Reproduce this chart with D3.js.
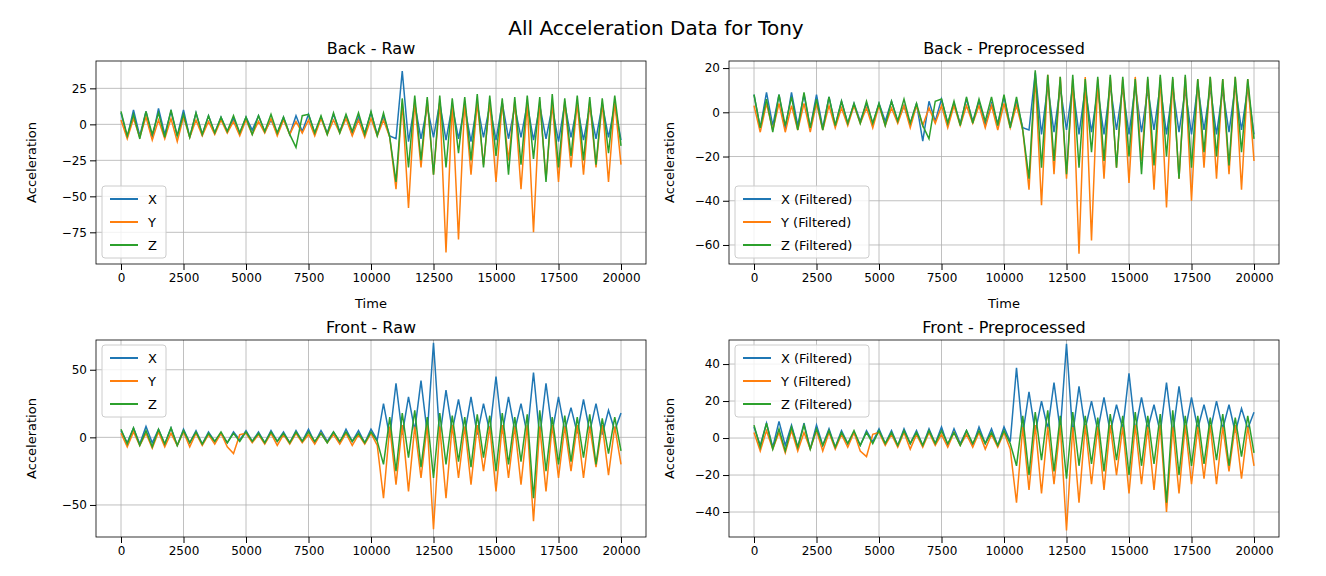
<!DOCTYPE html>
<html>
<head>
<meta charset="utf-8">
<script src="https://cdn.jsdelivr.net/npm/d3@7"></script>
<style>
  body { margin: 0; background: #fff; }
  text { font-family: "DejaVu Sans", sans-serif; }
</style>
</head>
<body>
<div class="canvas"></div>
<script>
// samples are evenly spaced over 0..20000 (time step from array length)
const backRawX = [8,-9,10,-8,9,-10,11,-7,9,-8, 10,-9,8,-7,6,-6,5,-5,4,-6, 5,-4,6,-5,3,-6,5,-7,6,-5, 7,-6,5,-6,7,-5,6,-7,5,-6, 8,-7,6,-8,
  -10,37,-12,14,-10,12,-9,15,-11,13, -10,12,-12,14,-9,13,-11,15,-10,12, -9,14,-11,13,-10,12,-12,14,-9,13, -11,12,-10,14,-9,13,-11];
const backRawY = [3,-10,4,-9,5,-11,3,-10,4,-12, 5,-9,3,-8,2,-7,3,-6,2,-8, 3,-7,2,-6,4,-8,3,-7,2,-6, 3,-8,4,-7,3,-6,4,-8,3,-9, 4,-8,3,-9,
  -45,15,-58,16,-30,17,-35,16,-89,15, -80,16,-35,15,-28,16,-40,15,-25,16, -45,15,-75,16,-38,15,-40,16,-30,15, -35,16,-30,15,-40,16,-28];
const backRawZ = [9,-8,7,-10,9,-7,8,-9,10,-8, 7,-9,8,-7,6,-6,5,-5,6,-6, 5,-7,6,-5,7,-6,5,-7,-16,6, 7,-6,6,-7,8,-6,7,-5,8,-7, 9,-8,8,-9,
  -40,18,-30,20,-25,19,-35,20,-30,18, -20,19,-25,21,-30,20,-22,18,-35,19, -28,20,-24,19,-40,21,-30,18,-22,20, -25,19,-28,18,-20,20,-15];

const backPreX = [8,-7,9,-6,8,-8,9,-6,8,-7, 8,-7,7,-6,5,-5,4,-4,4,-5, 4,-4,5,-4,3,-5,4,-13,5,-4, 6,-5,4,-5,6,-4,5,-6,4,-5, 7,-6,5,-7,
  -8,18,-10,12,-9,11,-8,12,-10,11, -9,10,-10,12,-8,11,-10,12,-9,10, -8,12,-10,11,-9,10,-10,12,-8,11, -10,10,-9,12,-8,11,-10];
const backPreY = [3,-9,4,-8,4,-9,3,-8,4,-9, 4,-8,3,-7,2,-6,3,-5,2,-7, 3,-6,2,-5,3,-7,3,-6,2,-5, 3,-7,3,-6,3,-5,3,-7,3,-8, 4,-7,3,-8,
  -35,16,-42,17,-28,16,-30,15,-64,16, -58,15,-30,16,-25,15,-32,16,-22,15, -35,16,-43,15,-30,16,-40,15,-25,16, -30,15,-28,16,-35,15,-22];
const backPreZ = [8,-7,6,-9,8,-6,7,-8,9,-7, 6,-8,7,-6,5,-5,4,-5,5,-5, 4,-6,5,-4,6,-5,4,-6,-12,5, 6,-5,5,-6,7,-5,6,-4,7,-6, 8,-7,7,-8,
  -30,19,-25,17,-22,16,-28,17,-25,15, -18,16,-22,17,-25,16,-20,15,-28,16, -24,17,-20,16,-30,17,-25,15,-18,16, -20,15,-24,16,-18,15,-12];

const frontRawX = [5,-4,7,-5,8,-4,6,-5,7,-6, 6,-4,5,-5,4,-3,3,-4,4,-2, 5,-3,4,-4,5,-3,4,-4,5,-3, 6,-4,5,-3,4,-4,6,-3,5,-4, 6,-2,
  25,0,40,2,30,5,42,3,70,0, 35,5,28,3,30,2,25,4,45,3, 30,5,25,2,48,0,40,4,30,5, 22,3,28,4,25,2,20,5,18];
const frontRawY = [3,-7,4,-6,3,-8,4,-7,3,-6, 4,-7,3,-6,2,-5,3,-7,-12,2, 3,-4,2,-5,3,-6,2,-5,3,-4, 2,-5,3,-4,2,-5,3,-6,2,-5, 3,-6,
  -45,8,-35,9,-40,8,-30,9,-68,8, -45,9,-30,8,-35,9,-25,8,-40,9, -30,8,-35,9,-62,8,-40,9,-30,8, -25,9,-30,8,-22,9,-28,8,-20];
const frontRawZ = [6,-5,7,-6,5,-7,6,-5,7,-6, 5,-4,4,-5,3,-3,4,-4,3,-3, 4,-3,3,-4,4,-3,3,-4,4,-3, 4,-3,3,-4,4,-3,4,-3,3,-4, 4,-3,
  -20,15,-25,18,-15,20,-22,15,-30,18, -20,16,-18,15,-22,17,-15,16,-25,18, -20,15,-18,17,-45,20,-25,15,-20,16, -18,15,-15,17,-20,14,-12,15,-10];

const frontPreX = [6,-4,8,-5,9,-4,7,-5,8,-6, 7,-4,5,-5,4,-3,3,-4,4,-2, 5,-3,4,-4,5,-3,4,-4,5,-3, 6,-4,5,-3,4,-4,6,-3,5,-4, 6,-2,
  38,2,25,3,20,5,30,4,51,2, 28,5,20,4,22,3,18,5,35,4, 22,5,18,3,30,2,28,4,22,5, 18,4,20,5,18,3,16,5,14];
const frontPreY = [3,-7,4,-6,3,-8,4,-7,3,-6, 4,-7,3,-6,2,-5,3,-7,-10,2, 3,-4,2,-5,3,-6,2,-5,3,-4, 2,-5,3,-4,2,-5,3,-6,2,-5, 3,-6,
  -35,6,-28,7,-30,6,-25,7,-50,6, -35,7,-25,6,-28,7,-20,6,-30,7, -25,6,-28,7,-40,6,-30,7,-25,6, -22,7,-25,6,-18,7,-22,6,-15];
const frontPreZ = [7,-5,8,-6,5,-7,6,-5,7,-6, 5,-4,4,-5,3,-3,4,-4,3,-3, 4,-3,3,-4,4,-3,3,-4,4,-3, 4,-3,3,-4,4,-3,4,-3,3,-4, 4,-3,
  -15,12,-20,14,-12,15,-18,12,-22,14, -15,12,-14,11,-18,13,-12,12,-20,14, -15,12,-14,13,-35,15,-20,12,-15,12, -14,11,-12,13,-15,11,-10,12,-8];

const xTicks = [0, 2500, 5000, 7500, 10000, 12500, 15000, 17500, 20000];
const colors = ['#1f77b4', '#ff7f0e', '#2ca02c'];

const panels = [
  { title: 'Back - Raw', series: [backRawX, backRawY, backRawZ], names: ['X', 'Y', 'Z'],
    yDomain: [-97, 44], yTicks: [-75, -50, -25, 0, 25], x0: 96, y0: 61, h: 203, timeLabel: true, legend: 'bottom' },
  { title: 'Back - Preprocessed', series: [backPreX, backPreY, backPreZ], names: ['X (Filtered)', 'Y (Filtered)', 'Z (Filtered)'],
    yDomain: [-68.6, 23.2], yTicks: [-60, -40, -20, 0, 20], x0: 729, y0: 61, h: 203, timeLabel: true, legend: 'bottom' },
  { title: 'Front - Raw', series: [frontRawX, frontRawY, frontRawZ], names: ['X', 'Y', 'Z'],
    yDomain: [-73.7, 72], yTicks: [-50, 0, 50], x0: 96, y0: 340, h: 197, timeLabel: false, legend: 'top' },
  { title: 'Front - Preprocessed', series: [frontPreX, frontPreY, frontPreZ], names: ['X (Filtered)', 'Y (Filtered)', 'Z (Filtered)'],
    yDomain: [-53.5, 53], yTicks: [-40, -20, 0, 20, 40], x0: 729, y0: 340, h: 197, timeLabel: false, legend: 'top' }
];
const w = 550;

const svg = d3.select('.canvas').append('svg').attr('width', 1326).attr('height', 576);

svg.append('text').attr('x', 656).attr('y', 35).attr('text-anchor', 'middle')
  .attr('font-size', 20).text('All Acceleration Data for Tony');

panels.forEach(p => {
  const g = svg.append('g').attr('transform', `translate(${p.x0}, ${p.y0})`);
  const x = d3.scaleLinear().domain([-1000, 21000]).range([0, w]);
  const y = d3.scaleLinear().domain(p.yDomain).range([p.h, 0]);

  // grid
  g.selectAll('.gx').data(xTicks).enter().append('line')
    .attr('x1', d => x(d)).attr('x2', d => x(d)).attr('y1', 0).attr('y2', p.h)
    .attr('stroke', '#b0b0b0').attr('stroke-width', 0.8);
  g.selectAll('.gy').data(p.yTicks).enter().append('line')
    .attr('x1', 0).attr('x2', w).attr('y1', d => y(d)).attr('y2', d => y(d))
    .attr('stroke', '#b0b0b0').attr('stroke-width', 0.8);

  const clip = 'clip' + p.x0 + p.y0;
  g.append('clipPath').attr('id', clip).append('rect').attr('width', w).attr('height', p.h);

  p.series.forEach((s, k) => {
    const line = d3.line().x((d, i) => x(i * 20000 / (s.length - 1))).y(d => y(d));
    g.append('path').datum(s).attr('d', line).attr('fill', 'none')
      .attr('stroke', colors[k]).attr('stroke-width', 1.5).attr('clip-path', `url(#${clip})`);
  });

  const xAxis = g.append('g').attr('transform', `translate(0, ${p.h})`)
    .call(d3.axisBottom(x).tickValues(xTicks).tickFormat(d3.format('d')).tickSizeOuter(0));
  const yAxis = g.append('g').call(d3.axisLeft(y).tickValues(p.yTicks).tickSizeOuter(0));
  [xAxis, yAxis].forEach(a => {
    a.selectAll('text').attr('font-size', 12).attr('fill', '#000');
    a.select('.domain').remove();
  });
  g.append('rect').attr('width', w).attr('height', p.h).attr('fill', 'none').attr('stroke', '#000').attr('stroke-width', 0.8);

  g.append('text').attr('x', w / 2).attr('y', -7).attr('text-anchor', 'middle').attr('font-size', 16).text(p.title);
  g.append('text').attr('transform', `translate(${p.x0 === 96 ? -60 : -55}, ${p.h / 2}) rotate(-90)`)
    .attr('text-anchor', 'middle').attr('font-size', 13).text('Acceleration');
  if (p.timeLabel) {
    g.append('text').attr('x', w / 2).attr('y', p.h + 44).attr('text-anchor', 'middle').attr('font-size', 13).text('Time');
  }

  // legend
  const lw = p.names[0].length > 2 ? 134 : 64;
  const ly = p.legend === 'bottom' ? p.h - 78 : 5;
  const lg = g.append('g').attr('transform', `translate(6, ${ly})`);
  lg.append('rect').attr('width', lw).attr('height', 72).attr('rx', 3)
    .attr('fill', 'rgba(255,255,255,0.8)').attr('stroke', '#ccc');
  p.names.forEach((n, k) => {
    lg.append('line').attr('x1', 8).attr('x2', 36).attr('y1', 13 + k * 23).attr('y2', 13 + k * 23)
      .attr('stroke', colors[k]).attr('stroke-width', 2);
    lg.append('text').attr('x', 46).attr('y', 18 + k * 23).attr('font-size', 13).text(n);
  });
});
</script>
</body>
</html>
